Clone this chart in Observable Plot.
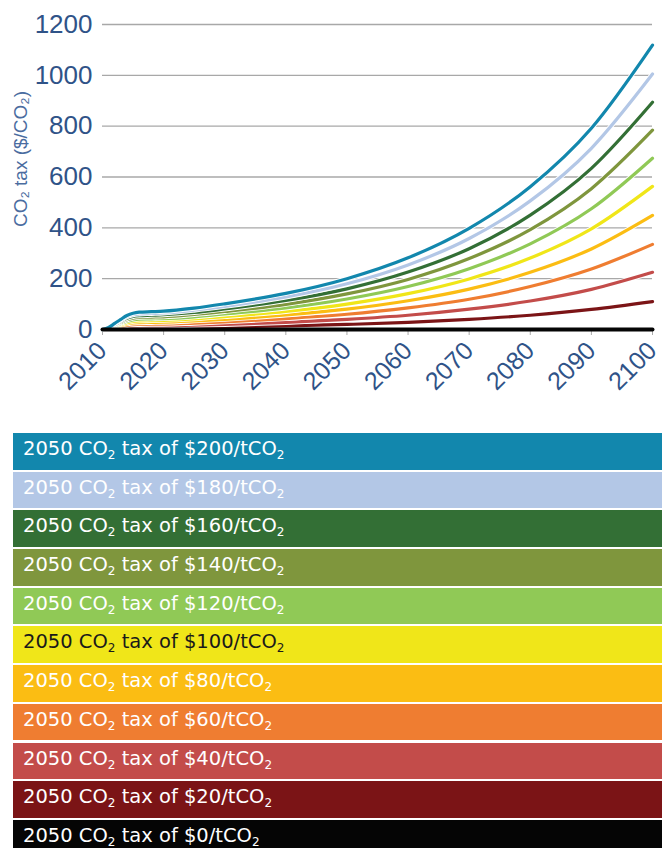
<!DOCTYPE html>
<html><head><meta charset="utf-8">
<script src="https://cdn.jsdelivr.net/npm/d3@7"></script>
<script src="https://cdn.jsdelivr.net/npm/@observablehq/plot@0.6"></script>
<style>
body{margin:0;background:#fff;font-family:"DejaVu Sans",sans-serif;width:662px;height:848px;overflow:hidden;}
#chart svg{display:block;}
#legend{margin-left:13px;width:649px;margin-top:3px;}
.item{height:36.5px;line-height:32px;margin-bottom:2.2px;padding-left:10px;font-size:19.5px;color:#fff;box-sizing:border-box;white-space:nowrap;overflow:hidden;}
.item sub{font-size:12px;vertical-align:-4px;line-height:0;}
</style></head><body>
<div id="chart"></div>
<div id="legend"></div>
<script>
const years = [2010, 2011, 2012, 2013, 2014, 2015, 2016, 2018, 2020, 2025, 2030, 2040, 2050, 2060, 2070, 2080, 2090, 2100];
const tax200 = [0, 8, 24, 40, 55, 64, 68, 70, 72, 84, 101, 142, 200, 282, 398, 562, 792, 1119];
const tax180 = [0, 7, 22, 36, 50, 58, 61, 63, 65, 76, 91, 128, 180, 254, 358, 506, 713, 1005];
const tax160 = [0, 6, 19, 32, 44, 51, 54, 56, 58, 67, 81, 114, 160, 226, 318, 450, 634, 894];
const tax140 = [0, 5, 17, 28, 38, 45, 48, 49, 50, 59, 71, 99, 140, 197, 279, 393, 554, 784];
const tax120 = [0, 5, 14, 24, 33, 38, 41, 42, 43, 50, 61, 85, 120, 169, 239, 337, 475, 674];
const tax100 = [0, 4, 12, 20, 27, 32, 34, 35, 36, 42, 51, 71, 100, 141, 199, 281, 396, 563];
const tax80  = [0, 3, 10, 16, 22, 26, 27, 28, 29, 34, 40, 57, 80, 113, 159, 225, 317, 449];
const tax60  = [0, 2, 7, 12, 16, 19, 20, 21, 21, 25, 30, 43, 60, 85, 119, 169, 238, 335];
const tax40  = [0, 2, 5, 8, 11, 13, 14, 14, 14, 17, 20, 28, 40, 56, 80, 112, 158, 225];
const tax20  = [0, 1, 2, 4, 5, 6, 7, 7, 7, 8, 10, 14, 20, 28, 40, 56, 79, 110];
const tax0   = [0, 0, 0, 0, 0, 0, 0, 0, 0, 0, 0, 0, 0, 0, 0, 0, 0, 0];

const seriesNames = ["$200", "$180", "$160", "$140", "$120", "$100", "$80", "$60", "$40", "$20", "$0"];
const seriesValues = [tax200, tax180, tax160, tax140, tax120, tax100, tax80, tax60, tax40, tax20, tax0];
const seriesColors = ["#1287ad", "#b3c7e6", "#336f35", "#7f963d", "#90c956", "#f0e619", "#fbbd13", "#ef7d31", "#c34c4a", "#7b1416", "#050505"];
const legendTextColors = ["#fff", "#fff", "#fff", "#fff", "#fff", "#1a1a1a", "#fff", "#fff", "#fff", "#fff", "#fff"];
const xTicks = [2010, 2020, 2030, 2040, 2050, 2060, 2070, 2080, 2090, 2100];
const yTicks = [0, 200, 400, 600, 800, 1000, 1200];
const yLabel = "CO₂ tax ($/CO₂)";

const rows = [];
seriesNames.forEach((s, i) => years.forEach((y, j) => rows.push({series: s, year: y, value: seriesValues[i][j]})));

const axisFont = "'Liberation Sans', sans-serif";
const marks = [
  Plot.gridY(yTicks, {stroke: "#a8a8a8", strokeOpacity: 1, strokeWidth: 1.3}),
  Plot.axisY(yTicks, {tickSize: 0, tickPadding: 10, fill: "#2f5388", fontSize: 26, fontFamily: axisFont, tickFormat: d => String(d), label: null}),
  Plot.axisX(xTicks, {tickSize: 6, stroke: "#aaaaaa", fill: "#2f5388", fontSize: 25, fontFamily: axisFont, tickRotate: -45, tickPadding: 11, tickFormat: d => String(d), label: null}),
  Plot.text([yLabel], {frameAnchor: "left", textAnchor: "middle", rotate: -90, dx: -82, dy: -18, fontSize: 19, fontFamily: axisFont, fill: "#4a6ca0"})
];
for (let i = seriesNames.length - 2; i >= 0; i--) {
  const d = rows.filter(r => r.series === seriesNames[i]);
  marks.push(Plot.line(d, {x: "year", y: "value", stroke: "#fff", strokeWidth: 5, curve: "monotone-x"}));
  marks.push(Plot.line(d, {x: "year", y: "value", stroke: seriesColors[i], strokeWidth: 3.2, curve: "monotone-x"}));
}
marks.push(Plot.line(rows.filter(r => r.series === "$0"), {x: "year", y: "value", stroke: seriesColors[10], strokeWidth: 4}));

const chart = Plot.plot({
  width: 662,
  height: 430,
  marginLeft: 102,
  marginRight: 10,
  marginTop: 24,
  marginBottom: 101,
  style: {fontFamily: axisFont, background: "#fff"},
  x: {domain: [2010, 2100]},
  y: {domain: [0, 1200]},
  marks
});
document.getElementById("chart").appendChild(chart);

const legend = document.getElementById("legend");
seriesNames.forEach((s, i) => {
  const div = document.createElement("div");
  div.className = "item";
  div.style.background = seriesColors[i];
  div.style.color = legendTextColors[i];
  div.innerHTML = `2050 CO<sub>2</sub> tax of ${s}/tCO<sub>2</sub>`;
  legend.appendChild(div);
});
</script>
</body></html>
